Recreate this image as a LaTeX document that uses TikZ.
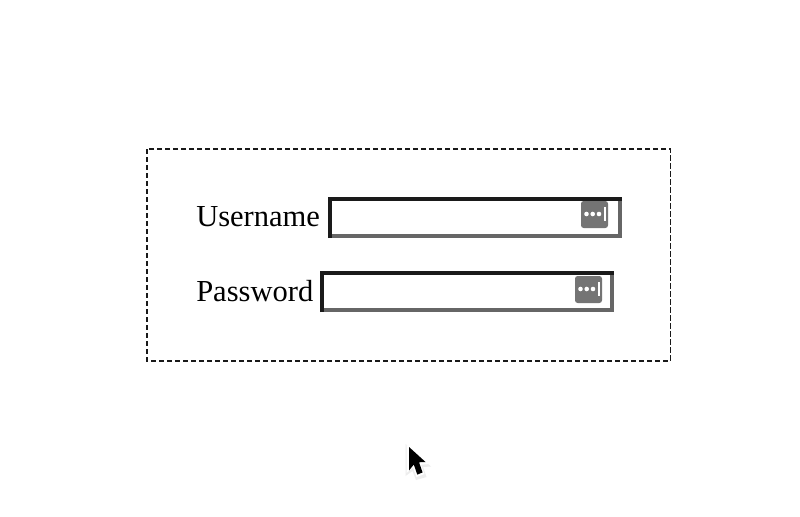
\documentclass[tikz,border=0pt]{standalone}
\usepackage{fontspec}
\setmainfont{Liberation Serif}
\definecolor{bdark}{HTML}{1A1A1A}
\definecolor{blight}{HTML}{666666}
\definecolor{keyicon}{HTML}{747474}
\tikzset{
  px/.style={x=0.75pt,y=-0.75pt},
  lbl/.style={inner sep=0pt,anchor=base west,font=\fontsize{22.9pt}{26pt}\selectfont,text=black},
  frame/.style={draw=black!90,line width=0.95pt,dash pattern=on 3.9pt off 2.1pt},
  darkedge/.style={draw=bdark,line width=3pt,line cap=butt},
  lightedge/.style={draw=blight,line width=3pt,line cap=butt},
  keybg/.style={fill=keyicon,rounded corners=2pt},
}
\newcommand{\inputbox}[2]{%
  \begin{scope}[shift={(#1,#2)}]
    \fill[white] (0,0) rectangle (294,41);
    \draw[lightedge] (292,2) -- (292,39) -- (2,39);
    \draw[darkedge] (2,41) -- (2,2) -- (294,2);
  \end{scope}}
\newcommand{\keyicon}[2]{%
  \begin{scope}[shift={(#1,#2)}]
    \fill[keybg] (0,0) rectangle (27,27);
    \fill[white] (5.5,13) circle (2.3) (11.7,13) circle (2.3) (18,13) circle (2.3);
    \fill[white] (23,6) rectangle (25.2,20);
  \end{scope}}
\begin{document}
\begin{tikzpicture}[px]
\useasboundingbox[fill=white] (0,0) rectangle (800,517);
\draw[frame] (147,149) rectangle (670.5,361);
\node[lbl] (userlabel) at (196,226) {Username};
\node[lbl] (passlabel) at (196,301) {Password};
\inputbox{328}{197}
\keyicon{581}{201}
\inputbox{320}{271}
\keyicon{575}{276}
% mouse pointer
\fill[black!7] (405.5,444) -- (405.5,476) -- (412.5,471) -- (416,480) -- (426.5,477) -- (423,467) -- (431,466.5) -- cycle;
\fill[white] (406.5,444.5) -- (406.5,473) -- (413,467.5) -- (416.5,477) -- (424.5,474) -- (421,464.8) -- (429,464) -- cycle;
\fill[black] (409,447) -- (409,470.5) -- (413.8,464.5) -- (417.3,474.6) -- (422.6,472.4) -- (419,462.3) -- (425.5,462) -- cycle;
\end{tikzpicture}
\end{document}
